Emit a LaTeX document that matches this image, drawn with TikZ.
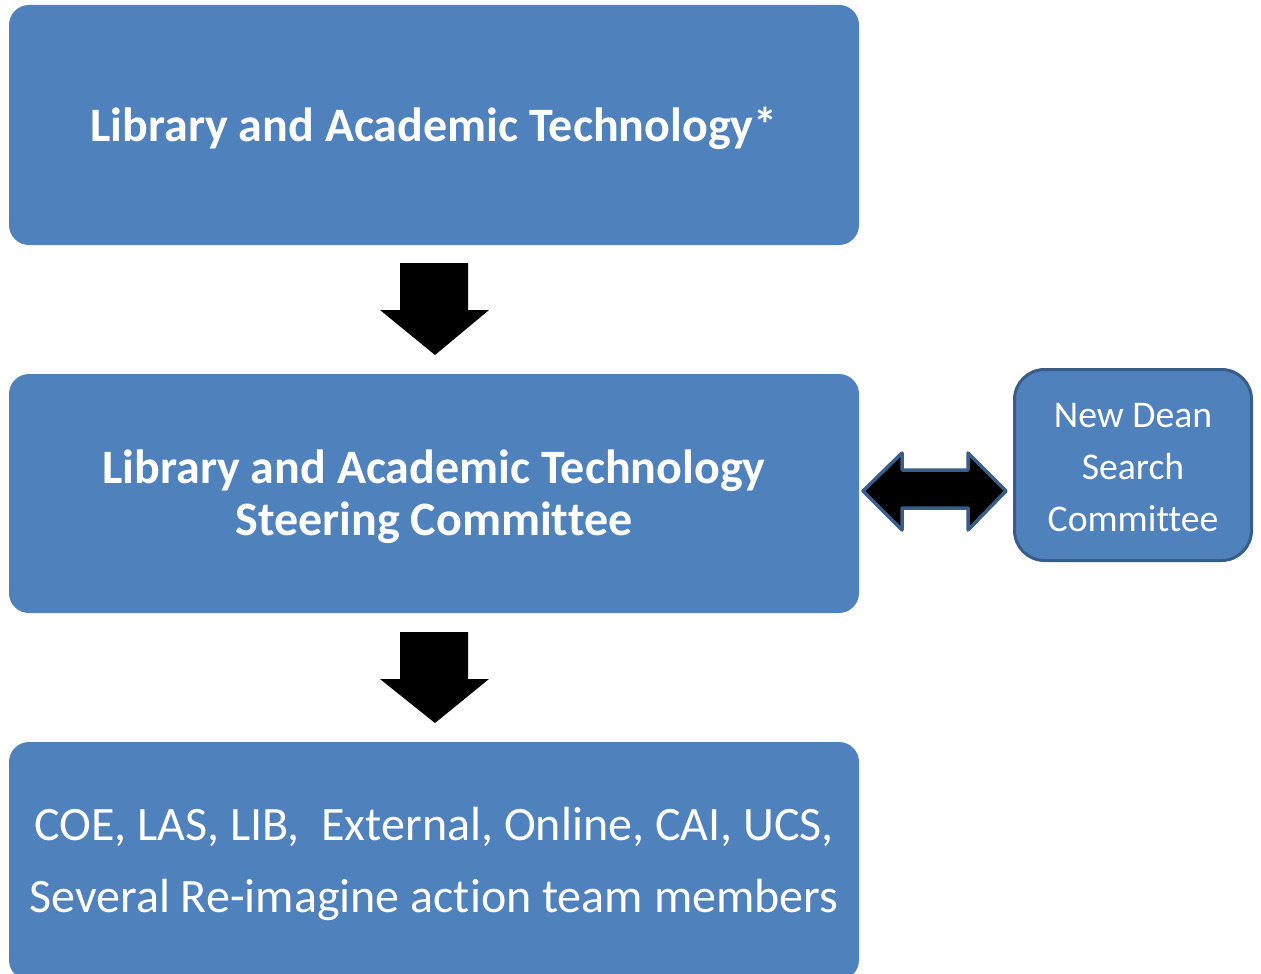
\documentclass[tikz,border=0pt]{standalone}
\usepackage{fontspec}
\setmainfont{Carlito}[Ligatures=NoCommon]
\begin{document}
\begin{tikzpicture}[x=1pt,y=-1pt,
  bigbox/.style={fill=boxblue, draw=none, rounded corners=20pt, minimum width=850pt, inner sep=0pt},
  sidebox/.style={fill=boxblue, draw=borderblue, line width=3pt, rounded corners=30pt, minimum width=237pt, minimum height=191pt, inner sep=0pt},
  boxtext/.style={text=white, align=center, inner sep=0pt},
  blockarrow/.style={fill=black, draw=none},
  dblarrow/.style={fill=black, draw=borderblue, line width=3.5pt, line join=round}]
\definecolor{boxblue}{HTML}{4F81BD}
\definecolor{borderblue}{HTML}{385D8A}
\useasboundingbox (0,0) rectangle (1261,974);
\clip (0,0) rectangle (1261,974);
\node[bigbox, minimum height=240pt] (top) at (434,125) {};
\node[bigbox, minimum height=239pt] (mid) at (434,493.5) {};
\node[bigbox, minimum height=238pt] (bot) at (434,861) {};
\node[sidebox] (dean) at (1133,465) {};
\node[boxtext, font=\fontsize{48}{52}\selectfont\bfseries] (toptxt) at ([yshift=-3pt]top.center) {Library and Academic Technology*};
\node[boxtext, font=\fontsize{48}{52}\selectfont\bfseries] (midtxt) at ([yshift=-3pt]mid.center) {Library and Academic Technology\\Steering Committee};
\node[boxtext, font=\fontsize{48}{72}\selectfont] (bottxt) at ([yshift=-3pt]bot.center) {COE, LAS, LIB,\ \ External, Online, CAI, UCS,\\Several Re-imagine action team members};
\node[boxtext, font=\fontsize{37.7}{52}\selectfont] (deantxt) at ([yshift=-3pt]dean.center) {New Dean\\Search\\Committee};
% down arrows
\path[blockarrow] (400,263) -- (468,263) -- (468,310) -- (489,310) -- (435,355) -- (380,310) -- (400,310) -- cycle;
\path[blockarrow] (400,632) -- (468,632) -- (468,679) -- (489,679) -- (435,723) -- (380,679) -- (400,679) -- cycle;
% double arrow
\draw[dblarrow] (863,491) -- (902,453) -- (902,470) -- (968,470) -- (968,453) -- (1006,491) -- (968,530) -- (968,508) -- (902,508) -- (902,530) -- cycle;
\end{tikzpicture}
\end{document}
